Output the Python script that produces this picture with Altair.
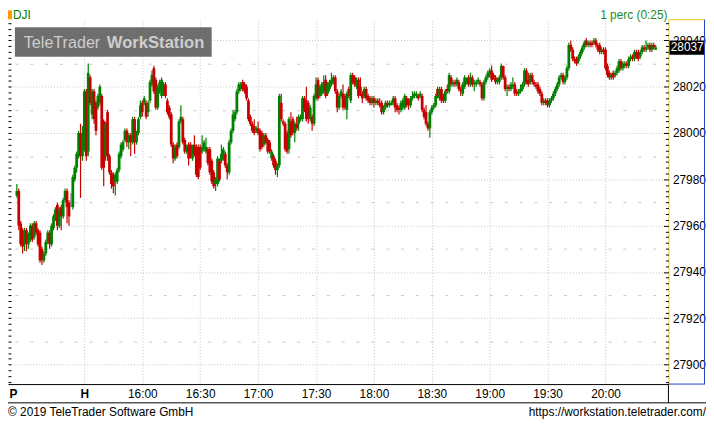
import altair as alt
import pandas as pd
import numpy as np

FONT = "Liberation Sans"
GREEN = "#008000"
RED = "#c80000"
GRID = "#c6c6c6"
YELLOW = "#f5c21b"
BLUE = "#2443c8"

# 1-minute candles (previous day's last 35 minutes, then today 15:30 - 20:26)
opens = [
    27973, 27975, 27961, 27958, 27952, 27958, 27952, 27954, 27960, 27955,
    27961, 27958, 27957, 27950, 27945, 27948, 27953, 27957, 27952, 27959,
    27963, 27969, 27960, 27968, 27964, 27971, 27975, 27970, 27970, 27968,
    27980, 27985, 27990, 28000, 27990, 27993, 28018, 27992,
    28024, 28008, 28018, 28013, 28011, 28013, 28016, 28005, 27990, 28009,
    27990, 27983, 27982, 27979, 27979, 27984, 27990, 27993, 27997, 28001,
    27996, 27999, 27996, 28006, 27996, 28000, 28007, 28013, 28013, 28013,
    28009, 28014, 28021, 28028, 28023, 28011, 28018,
    28016, 28017, 28021, 28014, 28011, 28008, 27995, 27989, 27995, 27994,
    28005, 28006, 27997, 27992, 27995, 27995, 27989, 27995, 27994, 27994,
    27994, 27992, 27993, 27992, 27993, 27993, 27988, 27983, 27978, 27978,
    27988, 27988, 27989, 27991, 27986, 27983, 27996, 28001,
    28006, 28009, 28018, 28019, 28022, 28021, 28020, 28014, 28007, 28004,
    28003, 28001, 28002, 28001, 28000, 27995, 27999, 27997, 27996, 27989,
    27990, 27988, 27984, 27986, 28013, 28005, 28004, 28000, 27993, 28005,
    28006, 28000, 28004, 28004, 28006, 28006, 28015,
    28014, 28013, 28006, 28007, 28004, 28015, 28023, 28016, 28017, 28018,
    28023, 28017, 28019, 28021, 28022, 28024, 28018, 28011, 28016, 28017,
    28016, 28010, 28019, 28014, 28025, 28024, 28020, 28023, 28020, 28017,
    28016, 28019, 28016, 28015, 28013, 28015, 28013, 28014,
    28013, 28013, 28009, 28011, 28013, 28012, 28012, 28013, 28015, 28012,
    28011, 28010, 28011, 28011, 28015, 28014, 28012, 28015, 28016, 28016,
    28016, 28016, 28016, 28010, 28009, 28004, 28002, 28009, 28011, 28012,
    28019, 28015, 28019, 28016, 28014, 28019, 28018,
    28024, 28021, 28022, 28021, 28022, 28019, 28017, 28020, 28022, 28024,
    28021, 28024, 28021, 28021, 28022, 28022, 28021, 28015, 28022, 28024,
    28025, 28027, 28025, 28024, 28022, 28022, 28024, 28029, 28024, 28019,
    28020, 28019, 28020, 28021, 28018, 28017, 28018, 28019,
    28021, 28027, 28023, 28022, 28025, 28022, 28021, 28021, 28019, 28017,
    28013, 28014, 28014, 28012, 28014, 28015, 28017, 28019, 28021, 28024,
    28025, 28022, 28024, 28028, 28038, 28036, 28032, 28032, 28031, 28033,
    28035, 28037, 28040, 28038, 28039, 28039, 28039,
    28040, 28038, 28038, 28035, 28036, 28036, 28029, 28026, 28024, 28026,
    28025, 28026, 28027, 28031, 28028, 28029, 28030, 28029, 28032, 28033,
    28032, 28035, 28035, 28033, 28035, 28037, 28036, 28037, 28038, 28036,
    28038, 28036,
]
highs = [
    27978, 27976, 27962, 27959, 27959, 27959, 27957, 27961, 27961, 27962,
    27962, 27959, 27958, 27951, 27949, 27954, 27958, 27958, 27961, 27965,
    27968, 27970, 27968, 27969, 27972, 27976, 27976, 27971, 27974, 27982,
    27986, 27992, 28001, 28004, 28003, 28019, 28019, 28030,
    28025, 28019, 28019, 28014, 28017, 28021, 28017, 28006, 28005, 28010,
    27991, 27984, 27983, 27983, 27985, 27992, 27996, 27997, 28002, 28002,
    28000, 28000, 28007, 28007, 28001, 28007, 28014, 28014, 28016, 28014,
    28014, 28023, 28027, 28029, 28024, 28021, 28023,
    28024, 28022, 28022, 28015, 28012, 28009, 27996, 27995, 27996, 28006,
    28012, 28007, 27998, 27995, 27996, 27996, 27995, 27999, 27995, 27995,
    27995, 27999, 27997, 27998, 27994, 27994, 27989, 27984, 27981, 27990,
    27989, 27995, 27994, 27992, 27987, 27997, 28002, 28010,
    28010, 28019, 28022, 28022, 28023, 28022, 28021, 28015, 28008, 28005,
    28006, 28003, 28005, 28002, 28001, 28000, 28000, 27998, 27997, 27993,
    27991, 27989, 27987, 28017, 28017, 28006, 28005, 28001, 28007, 28009,
    28007, 28005, 28007, 28008, 28008, 28016, 28016,
    28020, 28014, 28012, 28008, 28017, 28024, 28024, 28021, 28022, 28025,
    28025, 28022, 28023, 28026, 28025, 28025, 28019, 28017, 28019, 28021,
    28017, 28018, 28020, 28026, 28026, 28025, 28024, 28024, 28024, 28018,
    28020, 28020, 28017, 28016, 28016, 28016, 28015, 28015,
    28015, 28014, 28012, 28014, 28014, 28014, 28014, 28016, 28016, 28013,
    28012, 28014, 28015, 28017, 28016, 28015, 28016, 28018, 28018, 28018,
    28017, 28018, 28017, 28011, 28012, 28005, 28010, 28012, 28013, 28017,
    28020, 28020, 28020, 28017, 28019, 28021, 28026,
    28025, 28023, 28023, 28024, 28023, 28020, 28022, 28025, 28024, 28025,
    28026, 28025, 28023, 28023, 28024, 28023, 28022, 28023, 28025, 28027,
    28028, 28029, 28026, 28025, 28024, 28025, 28030, 28029, 28025, 28021,
    28021, 28022, 28024, 28022, 28019, 28019, 28021, 28022,
    28028, 28028, 28026, 28026, 28026, 28023, 28022, 28022, 28020, 28018,
    28015, 28015, 28015, 28015, 28016, 28018, 28020, 28022, 28025, 28026,
    28026, 28025, 28029, 28039, 28040, 28037, 28033, 28033, 28034, 28036,
    28038, 28040, 28041, 28040, 28040, 28040, 28041,
    28041, 28039, 28039, 28037, 28037, 28037, 28030, 28027, 28026, 28027,
    28027, 28029, 28032, 28032, 28031, 28031, 28031, 28033, 28034, 28034,
    28036, 28036, 28036, 28036, 28038, 28038, 28040, 28039, 28039, 28039,
    28039, 28038,
]
lows = [
    27972, 27958, 27951, 27948, 27949, 27949, 27950, 27953, 27953, 27954,
    27956, 27951, 27944, 27943, 27944, 27947, 27952, 27950, 27951, 27958,
    27962, 27958, 27959, 27958, 27963, 27970, 27961, 27960, 27968, 27967,
    27979, 27983, 27989, 27972, 27988, 27992, 27988, 27990,
    28012, 28006, 28004, 27999, 28010, 28012, 27984, 27977, 27988, 27988,
    27982, 27976, 27974, 27973, 27978, 27983, 27989, 27992, 27996, 27994,
    27993, 27990, 27995, 27991, 27995, 27999, 28006, 28007, 28012, 28006,
    28007, 28013, 28020, 28017, 28010, 28010, 28017,
    28015, 28016, 28015, 28008, 28006, 27994, 27987, 27988, 27989, 27993,
    28004, 27995, 27991, 27991, 27986, 27989, 27988, 27990, 27981, 27980,
    27984, 27991, 27992, 27991, 27986, 27982, 27978, 27976, 27975, 27977,
    27979, 27987, 27988, 27985, 27980, 27982, 27995, 28000,
    28005, 28008, 28017, 28018, 28018, 28017, 28014, 28005, 28003, 28000,
    27999, 28000, 27999, 27992, 27993, 27994, 27995, 27991, 27991, 27988,
    27985, 27982, 27981, 27985, 28005, 28003, 27992, 27991, 27991, 27998,
    27999, 27996, 28001, 28001, 28005, 28005, 28009,
    28005, 28004, 28005, 28001, 28003, 28014, 28014, 28015, 28016, 28017,
    28015, 28016, 28018, 28020, 28021, 28017, 28009, 28010, 28015, 28010,
    28010, 28006, 28015, 28013, 28021, 28020, 28019, 28015, 28016, 28013,
    28015, 28014, 28013, 28012, 28012, 28011, 28012, 28012,
    28011, 28008, 28008, 28010, 28011, 28011, 28012, 28012, 28009, 28009,
    28008, 28009, 28010, 28010, 28011, 28010, 28011, 28014, 28015, 28015,
    28014, 28015, 28009, 28006, 28003, 28001, 27998, 28008, 28010, 28011,
    28015, 28014, 28013, 28013, 28013, 28017, 28017,
    28020, 28020, 28020, 28020, 28018, 28016, 28016, 28019, 28021, 28020,
    28020, 28020, 28018, 28020, 28021, 28020, 28014, 28014, 28021, 28023,
    28024, 28022, 28023, 28021, 28021, 28021, 28023, 28023, 28018, 28016,
    28018, 28018, 28019, 28016, 28016, 28016, 28017, 28018,
    28020, 28021, 28020, 28021, 28021, 28020, 28019, 28017, 28016, 28012,
    28012, 28012, 28011, 28011, 28013, 28014, 28016, 28018, 28020, 28023,
    28021, 28021, 28023, 28027, 28035, 28031, 28030, 28029, 28030, 28032,
    28034, 28036, 28037, 28037, 28037, 28037, 28038,
    28037, 28035, 28034, 28034, 28034, 28027, 28024, 28023, 28023, 28023,
    28024, 28025, 28026, 28027, 28027, 28028, 28028, 28028, 28031, 28031,
    28031, 28032, 28031, 28032, 28034, 28035, 28035, 28036, 28035, 28035,
    28036, 28036,
]
closes = [
    27975, 27960, 27952, 27951, 27958, 27952, 27956, 27960, 27954, 27961,
    27957, 27952, 27945, 27945, 27948, 27953, 27957, 27952, 27960, 27964,
    27967, 27960, 27967, 27964, 27971, 27975, 27968, 27964, 27970, 27981,
    27985, 27991, 28000, 27990, 27995, 28018, 27990, 28026,
    28013, 28018, 28006, 28001, 28016, 28020, 27985, 27985, 28004, 27990,
    27983, 27978, 27977, 27982, 27984, 27991, 27995, 27996, 28001, 27996,
    27999, 27996, 28006, 27996, 28000, 28006, 28012, 28009, 28015, 28007,
    28013, 28022, 28025, 28018, 28011, 28020, 28022,
    28023, 28021, 28016, 28009, 28007, 27995, 27989, 27994, 27990, 28005,
    28007, 27996, 27992, 27994, 27989, 27990, 27994, 27991, 27982, 27981,
    27985, 27994, 27996, 27994, 27987, 27983, 27979, 27977, 27980, 27989,
    27980, 27991, 27993, 27986, 27983, 27996, 28001, 28008,
    28009, 28018, 28021, 28021, 28019, 28018, 28015, 28006, 28004, 28001,
    28000, 28002, 28000, 27993, 27994, 27999, 27996, 27992, 27992, 27992,
    27986, 27984, 27986, 28016, 28006, 28004, 27993, 27992, 28006, 27999,
    28000, 28004, 28002, 28007, 28007, 28015, 28010,
    28006, 28006, 28011, 28004, 28016, 28021, 28015, 28020, 28021, 28022,
    28016, 28021, 28022, 28023, 28024, 28018, 28011, 28016, 28018, 28011,
    28011, 28017, 28016, 28025, 28022, 28021, 28023, 28016, 28017, 28015,
    28019, 28015, 28014, 28013, 28015, 28013, 28014, 28013,
    28012, 28009, 28011, 28013, 28012, 28013, 28013, 28015, 28011, 28010,
    28010, 28013, 28014, 28016, 28012, 28012, 28015, 28016, 28017, 28017,
    28015, 28017, 28010, 28007, 28004, 28002, 28009, 28011, 28012, 28016,
    28016, 28019, 28014, 28014, 28018, 28018, 28025,
    28021, 28022, 28021, 28023, 28019, 28018, 28021, 28024, 28023, 28021,
    28024, 28021, 28022, 28022, 28023, 28021, 28015, 28022, 28024, 28026,
    28027, 28023, 28024, 28022, 28023, 28024, 28029, 28024, 28019, 28020,
    28019, 28021, 28021, 28017, 28017, 28018, 28019, 28021,
    28027, 28022, 28021, 28025, 28022, 28021, 28020, 28018, 28017, 28013,
    28014, 28013, 28012, 28014, 28015, 28017, 28019, 28021, 28024, 28025,
    28022, 28024, 28028, 28038, 28036, 28032, 28031, 28030, 28033, 28035,
    28037, 28039, 28038, 28039, 28038, 28038, 28040,
    28038, 28036, 28035, 28036, 28035, 28028, 28025, 28024, 28025, 28024,
    28026, 28028, 28031, 28028, 28030, 28030, 28029, 28032, 28033, 28032,
    28035, 28033, 28032, 28035, 28037, 28036, 28037, 28038, 28036, 28038,
    28037, 28037,
]

tick_index = [0, 35, 65, 95, 125, 155, 185, 215, 245, 275, 305]
tick_labels = ["P", "H", "16:00", "16:30", "17:00", "17:30", "18:00",
               "18:30", "19:00", "19:30", "20:00"]
y_major = [27900, 27920, 27940, 27960, 27980, 28000, 28020, 28040]
y_half = [27910, 27930, 27950, 27970, 27990, 28010, 28030]
y_ticks = [27892.5 + 2.5 * k for k in range(63)]

symbol = "DJI"
interval_text = "1 perc (0:25)"
logo_regular = "TeleTrader"
logo_bold = "WorkStation"
footer_left = "© 2019 TeleTrader Software GmbH"
footer_right = "https://workstation.teletrader.com/"

n = min(len(opens), len(highs), len(lows), len(closes))
df = pd.DataFrame({
    "i": list(range(n)),
    "open": opens[:n], "high": highs[:n], "low": lows[:n], "close": closes[:n],
})
df["dir"] = np.where(df["close"] > df["open"], "up",
                     np.where(df["close"] < df["open"], "down", "flat"))

W, H = 668, 368
xs = alt.Scale(domain=[-2.02, 335.04], nice=False, zero=False)
ys = alt.Scale(domain=[27891.6, 28048.7], nice=False, zero=False)

label_expr = ("[" + ",".join("'%s'" % t for t in tick_labels) + "][indexof(["
              + ",".join(str(v) for v in tick_index) + "], datum.value)]")

x_axis = alt.Axis(
    values=tick_index, labelExpr=label_expr, title=None,
    grid=True, gridColor=GRID, gridDash=[1, 2],
    gridOpacity={"condition": {"test": "datum.value == 0", "value": 0}, "value": 1},
    domain=True, domainColor="black", domainWidth=1,
    ticks=False, tickSize=0, labelPadding=5,
    labelFont=FONT, labelFontSize=12, labelColor="black",
    labelFontWeight={"condition": {"test": "datum.value <= 35", "value": "bold"}, "value": "normal"},
    labelAlign={"condition": {"test": "datum.value == 0", "value": "right"}, "value": "center"},
    labelFlush=False, labelOverlap=False, labelBound=False,
)
X = alt.X("i:Q", scale=xs, axis=x_axis)

axis_main = alt.Axis(
    orient="right", values=y_major, title=None, format="d",
    grid=True, gridColor=GRID, gridDash=[1, 2],
    ticks=False, tickSize=0, domain=True, domainColor=YELLOW, domainWidth=1,
    labelFont=FONT, labelFontSize=12, labelColor="black", labelPadding=4,
    labelAlign="left", labelBaseline="middle",
    labelFlush=False, labelOverlap=False, labelBound=False,
)
axis_half = alt.Axis(
    orient="left", values=y_half, title=None,
    grid=True, gridColor=GRID, gridDash=[3, 12], gridDashOffset=8,
    ticks=False, labels=False, domain=False,
)
axis_rticks = alt.Axis(
    orient="left", offset=-W, values=y_ticks, title=None,
    grid=False, labels=False, domain=False, ticks=True,
    tickColor="black", tickWidth=1,
    tickSize={"condition": {"test": "datum.value % 20 == 0", "value": 5}, "value": 3},
)
axis_lticks = alt.Axis(
    orient="right", offset=-W, values=y_ticks, title=None,
    grid=False, labels=False, domain=False, ticks=True,
    tickColor="black", tickWidth=1, tickSize=3,
)

COLOR = alt.Color("dir:N", scale=alt.Scale(domain=["up", "down", "flat"],
                                          range=[GREEN, RED, "#808080"]), legend=None)

half = alt.Chart(df).mark_point(opacity=0).encode(
    x=X, y=alt.Y("close:Q", scale=ys, axis=axis_half))
lt = alt.Chart(df).mark_point(opacity=0).encode(
    x=X, y=alt.Y("close:Q", scale=ys, axis=axis_lticks))
wick = alt.Chart(df).mark_rule(strokeWidth=1.2).encode(
    x=X, y=alt.Y("low:Q", scale=ys, axis=axis_main), y2="high:Q", color=COLOR)
body = alt.Chart(df).mark_bar(size=2.8).encode(
    x=X, y=alt.Y("open:Q", scale=ys, axis=axis_rticks), y2="close:Q", color=COLOR)

last = df.iloc[[-1]]
box = alt.Chart(last).mark_rect(color="black", yOffset=-7, y2Offset=7.5).encode(
    x=alt.value(669), x2=alt.value(704),
    y=alt.Y("close:Q", scale=ys, axis=None), y2="close:Q")
box_text = alt.Chart(last).mark_text(
    color="white", font=FONT, fontSize=12, align="center", baseline="middle").encode(
    x=alt.value(687), y=alt.Y("close:Q", scale=ys, axis=None),
    text=alt.Text("close:Q", format="d"))

one = pd.DataFrame({"k": [0]})


def hline(x1, x2, y, color, w=1):
    return alt.Chart(one).mark_rule(color=color, strokeWidth=w).encode(
        x=alt.value(x1), x2=alt.value(x2), y=alt.value(y))


def vline(x, y1, y2, color, w=1):
    return alt.Chart(one).mark_rule(color=color, strokeWidth=w).encode(
        x=alt.value(x), y=alt.value(y1), y2=alt.value(y2))


def rect(x1, x2, y1, y2, color):
    return alt.Chart(one).mark_rect(color=color).encode(
        x=alt.value(x1), x2=alt.value(x2), y=alt.value(y1), y2=alt.value(y2))


def text(t, x, y, **kw):
    return alt.Chart(pd.DataFrame({"t": [t]})).mark_text(font=FONT, **kw).encode(
        x=alt.value(x), y=alt.value(y), text="t:N")


decor = [
    rect(7, 206, 7, 37, "#6e6e6e"),
    text(logo_regular, 16, 28, fontSize=16.3, color="#cdcdcd", align="left", baseline="alphabetic"),
    text(logo_bold, 100, 28, fontSize=16.8, fontWeight="bold", color="#cdcdcd", align="left", baseline="alphabetic"),
    rect(0, 4, -10, -1, "#ff9900"),
    text(symbol, 5, -5, fontSize=12, color=GREEN, align="left", baseline="middle"),
    text(interval_text, 633, -5, fontSize=12, color="#1e8c1e", align="center", baseline="middle"),
    hline(668, 705, -0.5, YELLOW),
    vline(704.5, -0.5, 368, BLUE),
    hline(668, 705, 368, BLUE),
    vline(668, 368, 387, "black"),
    hline(0, 706, 387, "black"),
    text(footer_left, 0, 396, fontSize=12, color="black", align="left", baseline="middle"),
    text(footer_right, 706, 396, fontSize=12, color="black", align="right", baseline="middle"),
]

chart = alt.layer(half, lt, wick, body, *decor, box, box_text).resolve_scale(
    y="shared").resolve_axis(y="independent").properties(
    width=W, height=H,
    padding={"left": 0, "top": 10, "right": 38, "bottom": 38},
    autosize=alt.AutoSizeParams(type="none"),
    background="white",
).configure_view(stroke=None)

chart.save("out.html", embed_options={"renderer": "svg", "actions": False})
